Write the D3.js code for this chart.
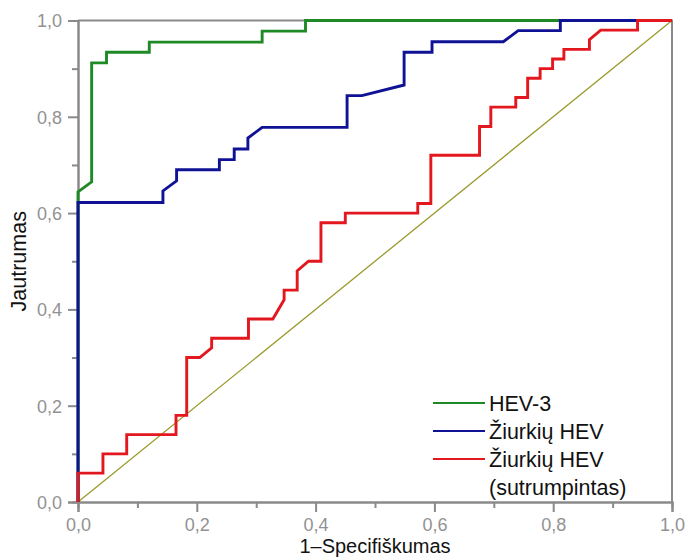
<!DOCTYPE html>
<html>
<head>
<meta charset="utf-8">
<script src="https://cdn.jsdelivr.net/npm/d3@7/dist/d3.min.js"></script>
<style>
  body { margin: 0; background: #fff; }
  svg { display: block; font-family: "Liberation Sans", Arial, sans-serif; }
</style>
</head>
<body>
<svg id="chart" width="689" height="558"></svg>
<script>
// ROC curves: [1 - specificity, sensitivity]
const hev3 = [
  [0, 0], [0, 0.644], [0.023, 0.665], [0.023, 0.912], [0.048, 0.912], [0.048, 0.934],
  [0.12, 0.934], [0.12, 0.955], [0.31, 0.955], [0.31, 0.978], [0.383, 0.978],
  [0.383, 1.0], [1.0, 1.0]
];
const ratHev = [
  [0, 0], [0, 0.622], [0.143, 0.622], [0.143, 0.646], [0.166, 0.667], [0.166, 0.69],
  [0.238, 0.69], [0.238, 0.711], [0.263, 0.711], [0.263, 0.733], [0.286, 0.733],
  [0.286, 0.756], [0.31, 0.778], [0.453, 0.778], [0.453, 0.844], [0.478, 0.844],
  [0.549, 0.866], [0.549, 0.934], [0.596, 0.934], [0.596, 0.956], [0.716, 0.956],
  [0.741, 0.979], [0.812, 0.979], [0.812, 1.0], [1.0, 1.0]
];
const ratHevShort = [
  [0, 0], [0, 0.06], [0.042, 0.06], [0.042, 0.10], [0.082, 0.10], [0.082, 0.14],
  [0.165, 0.14], [0.165, 0.18], [0.183, 0.18], [0.183, 0.30], [0.205, 0.30],
  [0.225, 0.32], [0.225, 0.34], [0.287, 0.34], [0.287, 0.38], [0.328, 0.38],
  [0.347, 0.42], [0.347, 0.44], [0.369, 0.44], [0.369, 0.48], [0.388, 0.50],
  [0.409, 0.50], [0.409, 0.58], [0.45, 0.58], [0.45, 0.60], [0.572, 0.60],
  [0.572, 0.62], [0.594, 0.62], [0.594, 0.72], [0.676, 0.72], [0.676, 0.78],
  [0.695, 0.78], [0.695, 0.82], [0.737, 0.82], [0.737, 0.84], [0.757, 0.84],
  [0.757, 0.88], [0.778, 0.88], [0.778, 0.90], [0.799, 0.90], [0.799, 0.92],
  [0.818, 0.92], [0.818, 0.94], [0.861, 0.94], [0.861, 0.96], [0.88, 0.98],
  [0.942, 0.98], [0.942, 1.0], [1.0, 1.0]
];
const diagonal = [[0, 0], [1, 1]];

const seriesNames = ["HEV-3", "Žiurkių HEV", "Žiurkių HEV"];
const seriesColors = ["#1e8a25", "#101296", "#e3171e"];
const majorTicks = [0, 0.2, 0.4, 0.6, 0.8, 1.0];
const minorTicks = [0.1, 0.3, 0.5, 0.7, 0.9];
const xTitle = "1–Specifiškumas";
const yTitle = "Jautrumas";

const svg = d3.select("#chart");
const plotLeft = 78, plotRight = 672, plotTop = 20.5, plotBottom = 502;

const x = d3.scaleLinear().domain([0, 1]).range([plotLeft, plotRight]);
const y = d3.scaleLinear().domain([0, 1]).range([plotBottom, plotTop]);
const fmt = d => d3.format(".1f")(d).replace(".", ",");
const axisGrey = "#8a8a8a";
const labelGrey = "#929292";

// frame (top and right)
svg.append("path")
  .attr("d", `M${plotLeft},${plotTop}H${plotRight}V${plotBottom}`)
  .attr("fill", "none").attr("stroke", axisGrey).attr("stroke-width", 2);

// axes
const xAxis = svg.append("g").attr("transform", `translate(0,${plotBottom})`)
  .call(d3.axisBottom(x).tickValues(majorTicks).tickFormat(fmt).tickSize(10).tickPadding(5));
const xMinor = svg.append("g").attr("transform", `translate(0,${plotBottom})`)
  .call(d3.axisBottom(x).tickValues(minorTicks).tickFormat("").tickSize(6));
const yAxis = svg.append("g").attr("transform", `translate(${plotLeft},0)`)
  .call(d3.axisLeft(y).tickValues(majorTicks).tickFormat(fmt).tickSize(10).tickPadding(6));
const yMinor = svg.append("g").attr("transform", `translate(${plotLeft},0)`)
  .call(d3.axisLeft(y).tickValues(minorTicks).tickFormat("").tickSize(6));

[xAxis, xMinor, yAxis, yMinor].forEach(g => {
  g.select(".domain").attr("stroke", axisGrey).attr("stroke-width", 2);
  g.selectAll(".tick line").attr("stroke", axisGrey).attr("stroke-width", 2);
  g.selectAll(".tick text").attr("fill", labelGrey)
    .style("font-size", "18px").style("font-family", "Liberation Sans, Arial, sans-serif");
});
xAxis.selectAll(".tick text").attr("y", 29).attr("dy", 0);
yAxis.selectAll(".tick text").attr("dy", "0.35em");

// reference diagonal
const line = d3.line().x(d => x(d[0])).y(d => y(d[1]));
svg.append("path").datum(diagonal).attr("d", line)
  .attr("fill", "none").attr("stroke", "#9a9a2c").attr("stroke-width", 1.3);

// ROC curves
[hev3, ratHev, ratHevShort].forEach((data, i) => {
  svg.append("path").datum(data).attr("d", line)
    .attr("fill", "none").attr("stroke", seriesColors[i])
    .attr("stroke-width", 2.9).attr("stroke-linejoin", "miter");
});

// legend
const legend = svg.append("g").attr("transform", "translate(433,403)");
seriesNames.forEach((name, i) => {
  const row = legend.append("g").attr("transform", `translate(0,${i * 28})`);
  row.append("line").attr("x1", 0).attr("x2", 52).attr("y1", 0).attr("y2", 0)
    .attr("stroke", seriesColors[i]).attr("stroke-width", 2.2);
  row.append("text").attr("x", 56).attr("y", 0).attr("dy", "0.36em")
    .style("font-size", "21.5px").attr("fill", "#111").text(name);
});
legend.append("text").attr("x", 56).attr("y", 84).attr("dy", "0.36em")
  .style("font-size", "21.5px").attr("fill", "#111").text("(sutrumpintas)");

// axis titles
svg.append("text").attr("x", (plotLeft + plotRight) / 2).attr("y", 553)
  .attr("text-anchor", "middle").style("font-size", "20px").attr("fill", "#111")
  .text(xTitle);
svg.append("text")
  .attr("transform", `translate(26,${(plotTop + plotBottom) / 2}) rotate(-90)`)
  .attr("text-anchor", "middle").style("font-size", "21.5px").attr("fill", "#111")
  .text(yTitle);
</script>
</body>
</html>
